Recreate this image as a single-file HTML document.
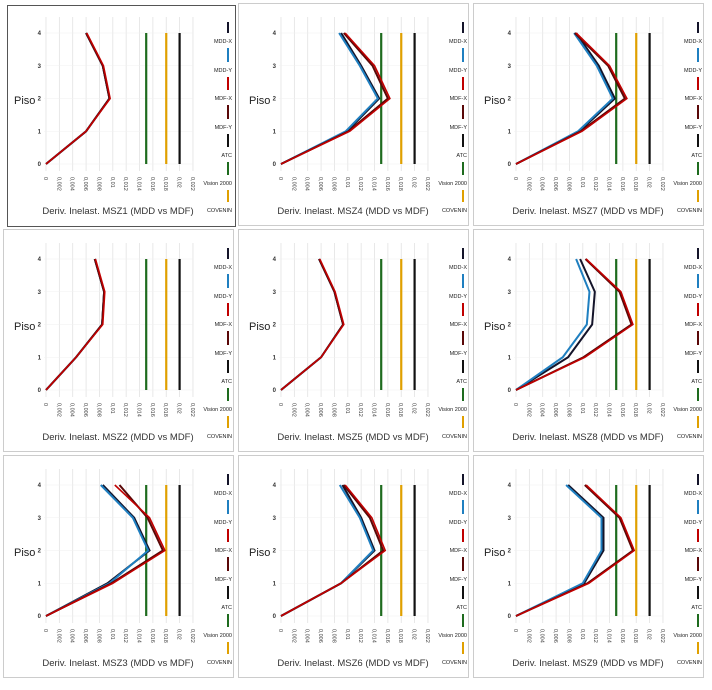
<!DOCTYPE html>
<html><head><meta charset="utf-8"><style>
body{margin:0;background:#fff;width:712px;height:690px;overflow:hidden;font-family:"Liberation Sans",sans-serif}
svg{position:absolute;left:0;top:0}
</style></head><body>
<svg id="s" width="712" height="690" xmlns="http://www.w3.org/2000/svg"></svg>
<script>
const C={bx:'#14142a',by:'#1f7fc0',rx:'#c00000',ry:'#5a0808'};
const P=[
 ['MSZ1',[[0,.006,.0095,.0085,.006],[0,.006,.0095,.0085,.006],[0,.006,.0096,.0086,.0061],[0,.006,.0095,.0085,.006]]],
 ['MSZ4',[[0,.0099,.0147,.012,.009],[0,.0097,.0145,.0118,.0087],[0,.0103,.0163,.014,.0096],[0,.0101,.016,.0137,.0094]]],
 ['MSZ7',[[0,.0095,.0148,.0124,.009],[0,.0093,.0145,.0121,.0087],[0,.0099,.0166,.014,.009],[0,.0097,.0163,.0138,.0088]]],
 ['MSZ2',[[0,.0045,.0084,.0087,.0073],[0,.0045,.0084,.0087,.0073],[0,.0045,.0085,.0088,.0074],[0,.0045,.0084,.0087,.0073]]],
 ['MSZ5',[[0,.006,.0093,.008,.0057],[0,.006,.0093,.008,.0057],[0,.006,.0094,.0081,.0058],[0,.006,.0093,.008,.0057]]],
 ['MSZ8',[[0,.0078,.0114,.0118,.0096],[0,.007,.0106,.011,.009],[0,.0103,.0175,.0157,.0105],[0,.0101,.0173,.0155,.0104]]],
 ['MSZ3',[[0,.0092,.0155,.0132,.0085],[0,.0095,.0153,.013,.0082],[0,.01,.0178,.0155,.0103],[0,.0098,.0175,.0152,.011]]],
 ['MSZ6',[[0,.009,.014,.012,.0092],[0,.009,.0138,.0118,.0088],[0,.009,.0156,.0136,.0096],[0,.009,.0153,.0133,.0094]]],
 ['MSZ9',[[0,.0102,.0131,.0131,.0078],[0,.01,.0128,.0128,.0075],[0,.0109,.0177,.0157,.0105],[0,.0107,.0175,.0155,.0103]]]
];
let h='';
P.forEach((p,i)=>{
 const ox=(i%3)*235, oy=Math.floor(i/3)*226;
 h+=`<g transform="translate(${ox},${oy})">`;
 h+=`<rect x="${i==0?7.5:3.5}" y="${i==0?5.5:3.5}" width="${i==0?228:230}" height="${i==0?221:222}" fill="#fff" stroke="${i==0?'#555':'#ccc'}" stroke-width="1"/>`;
 const X=v=>46+v*6680, Y=f=>164-32.75*f;
 for(let k=0;k<=11;k++){const x=X(k*.002);h+=`<line x1="${x}" y1="17" x2="${x}" y2="171" stroke="#e2e2e2" stroke-width="0.8"/>`;
  const lab=k==0?'0':(k*.002).toFixed(3).replace(/0+$/,'').replace('.',',');
  h+=`<text transform="translate(${x-2},177) rotate(90)" font-size="5.5" fill="#444">${lab}</text>`;}
 for(let f=0;f<=4;f++){h+=`<line x1="44" y1="${Y(f)}" x2="193" y2="${Y(f)}" stroke="#f0f0f0" stroke-width="0.6"/><text x="41" y="${Y(f)+2}" font-size="6" font-weight="bold" text-anchor="end" fill="#333">${f}</text>`;}
 [[.015,'#1e6b1e'],[.018,'#e0a000'],[.02,'#111']].forEach(([v,c])=>h+=`<line x1="${X(v)}" y1="${Y(0)}" x2="${X(v)}" y2="${Y(4)}" stroke="${c}" stroke-width="2.2"/>`);
 const cols=[C.bx,C.by,C.rx,C.ry], ord=[0,1,3,2];
 ord.forEach(j=>{const d=p[1][j];h+=`<polyline fill="none" stroke="${cols[j]}" stroke-width="${j==2?1.6:2}" points="${d.map((v,f)=>X(v)+','+Y(f)).join(' ')}"/>`;});
 h+=`<text x="14" y="104" font-size="11" fill="#222">Piso</text>`;
 h+=`<text x="118" y="214" font-size="9.5" text-anchor="middle" fill="#333">Deriv. Inelast. ${p[0]} (MDD vs MDF)</text>`;
 const L=[['MDD-X',C.bx,43],['MDD-Y',C.by,72],['MDF-X',C.rx,100],['MDF-Y',C.ry,129],['ATC','#111',157],['Vision 2000','#1e6b1e',185],['COVENIN','#e0a000',212]];
 let prev=17;
 L.forEach(([t,c,y])=>{h+=`<line x1="228" y1="${prev+5}" x2="228" y2="${y-10}" stroke="${c}" stroke-width="2"/><text x="232" y="${y}" font-size="5.5" text-anchor="end" fill="#222">${t}</text>`;prev=y;});
 h+='</g>';
});
document.getElementById('s').innerHTML=h;
</script>
</body></html>
